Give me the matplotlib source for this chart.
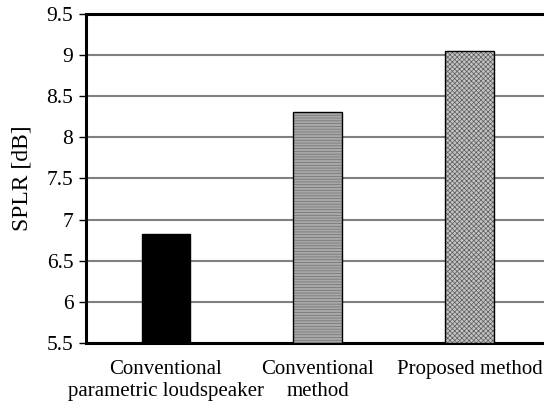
import matplotlib
matplotlib.use("Agg")
import matplotlib.pyplot as plt

plt.rcParams['font.family'] = ['Liberation Serif', 'DejaVu Serif']
plt.rcParams['hatch.linewidth'] = 0.5

categories = ["Conventional\nparametric loudspeaker", "Conventional\nmethod", "Proposed method"]
splr = [6.82, 8.31, 9.05]
fills = ["black", "#a8a8a8", "#c4c4c4"]
hatches = [None, "------", "xxxxxxx"]
hatch_colors = ["black", "#707070", "#5a5a5a"]

fig = plt.figure(figsize=(5.44, 4.07), dpi=100)
ax = fig.add_axes([0.158, 0.157, 0.845, 0.809])

x = range(len(categories))
for i in x:
    # fill + hatch, then outline on top
    ax.bar(i, splr[i] - 5.5, bottom=5.5, width=0.32, color=fills[i],
           hatch=hatches[i], edgecolor=hatch_colors[i], linewidth=0, zorder=3)
    ax.bar(i, splr[i] - 5.5, bottom=5.5, width=0.32, fill=False,
           edgecolor="black", linewidth=1.0, zorder=4)

ax.set_xlim(-0.526, 2.5)
ax.set_ylim(5.5, 9.5)
ax.set_yticks([5.5, 6, 6.5, 7, 7.5, 8, 8.5, 9, 9.5])
ax.set_yticklabels(["5.5", "6", "6.5", "7", "7.5", "8", "8.5", "9", "9.5"])
ax.set_xticks(list(x))
ax.set_xticklabels(categories, fontsize=15, linespacing=1.2)
ax.tick_params(axis='x', length=0, pad=12)
ax.tick_params(axis='y', labelsize=15.5, length=5, width=1, direction='out', pad=4)
ax.set_ylabel("SPLR [dB]", fontsize=17)
ax.yaxis.set_label_coords(-0.117, 0.5)

ax.yaxis.grid(True, color="#808080", linewidth=1.5, zorder=0)
ax.set_axisbelow(True)

for s in ['left', 'bottom', 'top']:
    ax.spines[s].set_linewidth(2.2)
    ax.spines[s].set_color("black")
ax.spines['right'].set_visible(False)

fig.savefig("out.png", dpi=100)
